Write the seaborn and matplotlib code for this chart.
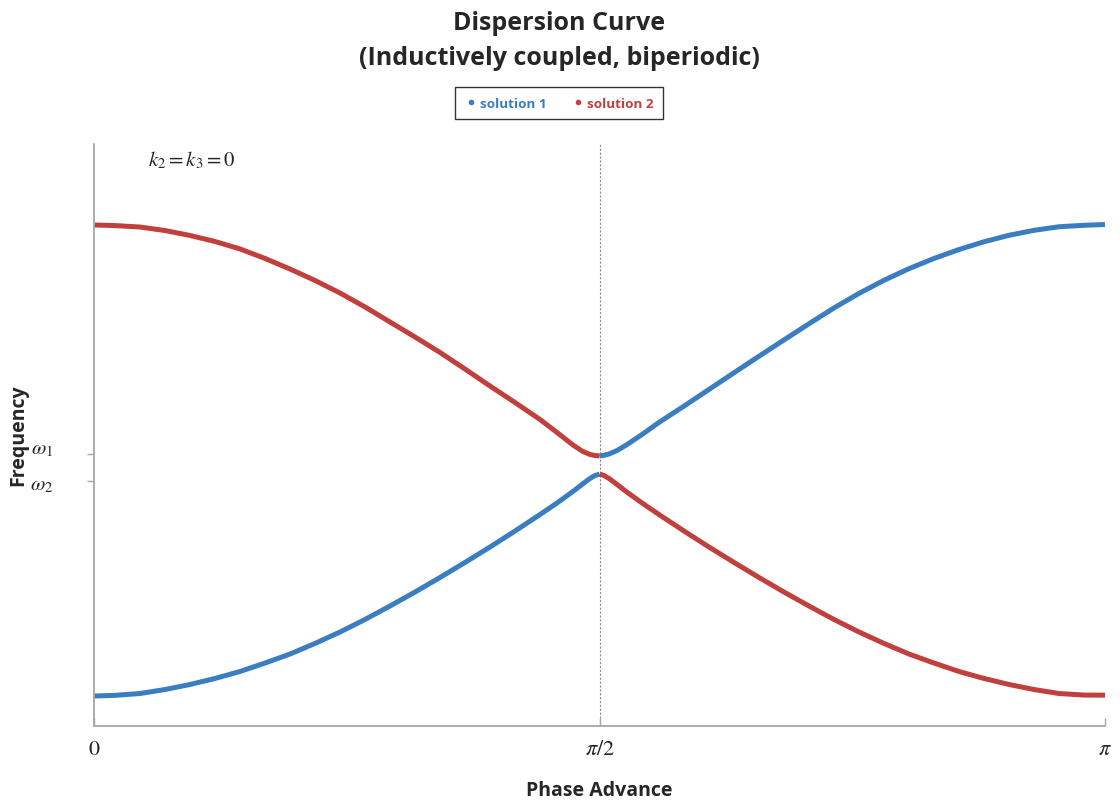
import numpy as np
import pandas as pd
import matplotlib
matplotlib.use("Agg")
import matplotlib.pyplot as plt
from matplotlib.lines import Line2D
import seaborn as sns

# Phase advance grid (radians) for the two halves of the Brillouin zone
phase_left = [0.0, 0.0653, 0.1429, 0.2206, 0.2983, 0.3760, 0.4537, 0.5314,
              0.6091, 0.6867, 0.7644, 0.8421, 0.9198, 0.9975, 1.0752, 1.1528,
              1.2305, 1.3082, 1.3859, 1.4387, 1.4884, 1.5164, 1.5413, 1.5568,
              1.5708]
phase_right = [1.5708, 1.5848, 1.6003, 1.6252, 1.6532, 1.7029, 1.7557,
               1.8334, 1.9111, 1.9888, 2.0664, 2.1441, 2.2218, 2.2995,
               2.3772, 2.4549, 2.5326, 2.6102, 2.6879, 2.7656, 2.8433,
               2.9210, 2.9987, 3.0763, 3.1416]

# Frequency (arbitrary units) of each solution on each half
sol1_left = [3.09, 3.16, 3.35, 3.76, 4.28, 4.90, 5.62, 6.49, 7.42, 8.51,
             9.69, 10.98, 12.37, 13.81, 15.31, 16.86, 18.45, 20.10, 21.80,
             22.99, 24.18, 24.90, 25.52, 25.82, 25.98]
sol1_right = [27.84, 27.91, 28.04, 28.40, 28.95, 30.05, 31.30, 32.98, 34.70,
              36.42, 38.12, 39.80, 41.47, 43.10, 44.60, 45.95, 47.15, 48.20,
              49.12, 49.92, 50.59, 51.10, 51.47, 51.62, 51.70]
sol2_left = [51.65, 51.59, 51.44, 51.08, 50.57, 49.95, 49.18, 48.20, 47.11,
             45.93, 44.64, 43.20, 41.65, 40.10, 38.51, 36.80, 35.05, 33.35,
             31.60, 30.26, 28.97, 28.35, 27.99, 27.88, 27.84]
sol2_right = [25.98, 25.82, 25.52, 24.90, 24.18, 22.99, 21.80, 20.10, 18.45,
              16.86, 15.31, 13.81, 12.37, 10.98, 9.69, 8.51, 7.42, 6.49,
              5.62, 4.90, 4.28, 3.76, 3.35, 3.19, 3.18]

# Band-edge frequencies at pi/2
omega_ticks = [28.04, 25.26]
omega_labels = [r"$\omega_1$", r"$\omega_2$"]

x_ticks = [0.0, np.pi / 2, np.pi]
x_labels = [r"$0$", r"$\pi/2$", r"$\pi$"]

series_names = ["solution 1", "solution 2"]
colors = {"solution 1": "#3b7dc1", "solution 2": "#c1403d"}

frames = []
for name, branch, ph, fr in [
    ("solution 1", "s1a", phase_left, sol1_left),
    ("solution 1", "s1b", phase_right, sol1_right),
    ("solution 2", "s2a", phase_left, sol2_left),
    ("solution 2", "s2b", phase_right, sol2_right),
]:
    frames.append(pd.DataFrame({"phase": ph, "freq": fr,
                                "solution": name, "branch": branch}))
df = pd.concat(frames, ignore_index=True)

sns.set_theme(style="white")
plt.rcParams["font.family"] = ["Open Sans", "DejaVu Sans"]
plt.rcParams["mathtext.fontset"] = "stix"

fig = plt.figure(figsize=(11.2, 8.04), dpi=100)
ax = fig.add_axes([94 / 1120, 1 - 727 / 804, 1011 / 1120, 582 / 804])

sns.lineplot(data=df, x="phase", y="freq", hue="solution", units="branch",
             estimator=None, sort=False, palette=colors, linewidth=3.6,
             legend=False, ax=ax, solid_capstyle="butt",
             solid_joinstyle="round")

ax.axvline(np.pi / 2, color="#8a8a8a", linestyle=(0, (2, 1.5)), linewidth=0.8,
           zorder=0)

ax.set_xlim(0, np.pi)
ax.set_ylim(0, 60)

for side in ["top", "right"]:
    ax.spines[side].set_visible(False)
for side in ["left", "bottom"]:
    ax.spines[side].set_color("#a6a6a6")
    ax.spines[side].set_linewidth(1.3)

ax.set_xticks(x_ticks)
ax.set_xticklabels(x_labels, fontsize=16)
ax.tick_params(axis="x", direction="in", length=6, width=1.0,
               color="#a6a6a6", pad=9, bottom=True)
ax.set_yticks(omega_ticks)
ax.set_yticklabels([])
ax.tick_params(axis="y", direction="out", length=5, width=1.0,
               color="#a6a6a6", left=True)

ytrans = ax.get_yaxis_transform()
ax.text(-0.0405, omega_ticks[0] + 0.67, omega_labels[0], transform=ytrans,
        ha="right", va="center", fontsize=15)
ax.text(-0.0405, omega_ticks[1] - 0.26, omega_labels[1], transform=ytrans,
        ha="right", va="center", fontsize=15)

ax.text(0.053, 0.974, r"$k_2 = k_3 = 0$", transform=ax.transAxes,
        ha="left", va="center", fontsize=15)

ax.set_xlabel("")
ax.set_ylabel("")
fig.text(599 / 1120, 1 - 791 / 804, "Phase Advance", ha="center",
         va="center", fontsize=14, fontweight="bold")
fig.text(18 / 1120, 1 - 435 / 804, "Frequency", ha="center", va="center",
         rotation=90, fontsize=14, fontweight="bold")

fig.text(559 / 1120, 1 - 41 / 804,
         "Dispersion Curve\n(Inductively coupled, biperiodic)",
         ha="center", va="center", fontsize=18, fontweight="bold",
         linespacing=1.55)

handles = [Line2D([], [], linestyle="none", marker="o", markersize=3,
                  color=colors[n]) for n in series_names]
leg = fig.legend(handles, series_names, loc="center",
                 bbox_to_anchor=(559 / 1120, 1 - 104 / 804), ncol=2,
                 frameon=True, fancybox=False, handletextpad=0.2,
                 columnspacing=1.8, handlelength=1.0, borderpad=0.7,
                 prop={"size": 9.7, "weight": "bold"})
leg.get_frame().set_edgecolor("black")
leg.get_frame().set_linewidth(1.0)
for txt, n in zip(leg.get_texts(), series_names):
    txt.set_color(colors[n])

fig.savefig("out.png", dpi=100)
